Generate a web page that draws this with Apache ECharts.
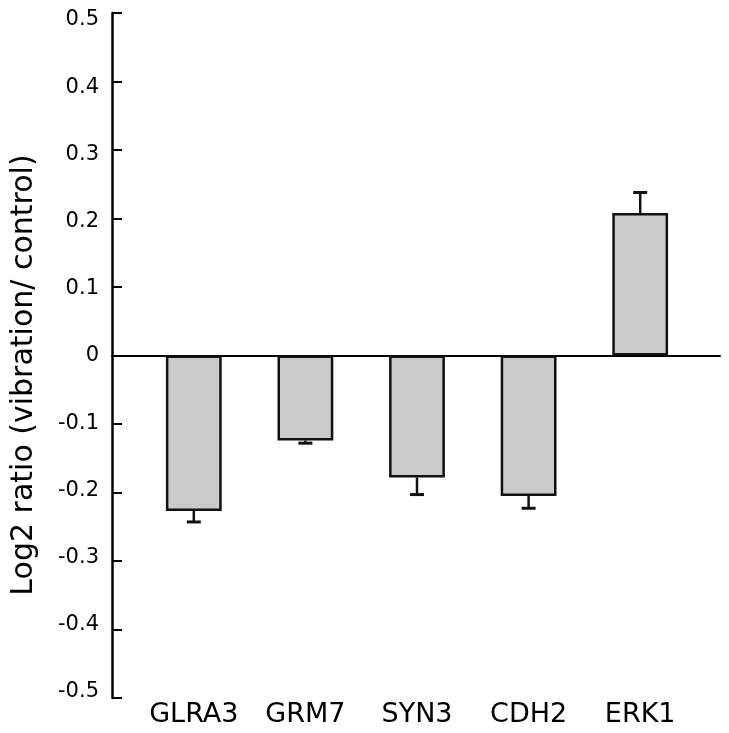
<!DOCTYPE html>
<html>
<head>
<meta charset="utf-8">
<script src="https://cdn.jsdelivr.net/npm/echarts@6/dist/echarts.min.js"></script>
<style>
html,body{margin:0;padding:0;background:#fff;}
#chart{width:729px;height:733px;}
</style>
</head>
<body>
<div id="chart"></div>
<script>
const categories = ['GLRA3', 'GRM7', 'SYN3', 'CDH2', 'ERK1'];
const values = [-0.227, -0.124, -0.178, -0.205, 0.208];
const errors = [0.016, 0.004, 0.025, 0.018, 0.030];
const yMin = -0.5, yMax = 0.5, yStep = 0.1;
const yTitle = 'Log2 ratio (vibration/ control)';

const FONT = 'DejaVu Sans';
const chart = echarts.init(document.getElementById('chart'), null, {renderer: 'canvas'});

const errData = values.map((v, i) => [i, v, errors[i]]);
const gridBase = {containLabel: false, outerBoundsMode: 'none'};

chart.setOption({
  animation: false,
  backgroundColor: '#ffffff',
  grid: [
    Object.assign({left: 112, right: 9, top: 13, bottom: 35}, gridBase),
    Object.assign({left: 138, right: 33, top: 13, bottom: 35}, gridBase),
    Object.assign({left: 112, right: 9, top: 20, bottom: 41}, gridBase)
  ],
  xAxis: [
    {
      gridIndex: 0, type: 'value', min: 0, max: 1,
      axisLine: {show: true, onZero: true, lineStyle: {color: '#000', width: 2}},
      axisTick: {show: false}, axisLabel: {show: false}, splitLine: {show: false}
    },
    {
      gridIndex: 1, type: 'category', data: categories,
      axisLine: {show: false, onZero: false},
      axisTick: {show: false},
      axisLabel: {color: '#000', fontSize: 27, fontFamily: FONT, margin: 3, interval: 0, hideOverlap: false}
    },
    {
      gridIndex: 2, type: 'value', show: false, min: 0, max: 1
    }
  ],
  yAxis: [
    {
      gridIndex: 0, type: 'value', min: yMin, max: yMax, interval: yStep,
      axisLine: {show: true, lineStyle: {color: '#000', width: 2.5}},
      axisTick: {show: true, inside: true, length: 10, lineStyle: {color: '#000', width: 2}},
      axisLabel: {show: false},
      splitLine: {show: false}
    },
    {
      gridIndex: 1, type: 'value', min: yMin, max: yMax, interval: yStep, show: false
    },
    {
      gridIndex: 2, type: 'value', min: yMin, max: yMax, interval: yStep,
      axisLine: {show: false}, axisTick: {show: false}, splitLine: {show: false},
      axisLabel: {color: '#000', fontSize: 21, fontFamily: FONT, margin: 13,
        formatter: v => String(Math.round(v * 10) / 10)}
    }
  ],
  graphic: [{
    type: 'text', x: 24, y: 375, rotation: Math.PI / 2,
    style: {text: yTitle, fill: '#000', font: '30px "DejaVu Sans"', align: 'center', verticalAlign: 'middle'}
  }],
  series: [
    {
      type: 'bar', xAxisIndex: 1, yAxisIndex: 1, data: values,
      barWidth: '50%',
      itemStyle: {color: '#cbcbcb', borderColor: '#111', borderWidth: 2.5}
    },
    {
      type: 'custom', xAxisIndex: 1, yAxisIndex: 1, data: errData, z: 3,
      renderItem: function (params, api) {
        const i = api.value(0), v = api.value(1), e = api.value(2);
        const end = v >= 0 ? v + e : v - e;
        const p0 = api.coord([i, v]);
        const p1 = api.coord([i, end]);
        const hw = 7;
        return {
          type: 'group',
          children: [
            {type: 'line', shape: {x1: p0[0], y1: p0[1], x2: p1[0], y2: p1[1]}, style: {stroke: '#111', lineWidth: 2.5}},
            {type: 'line', shape: {x1: p1[0] - hw, y1: p1[1], x2: p1[0] + hw, y2: p1[1]}, style: {stroke: '#111', lineWidth: 3}}
          ]
        };
      }
    }
  ]
});
</script>
</body>
</html>
